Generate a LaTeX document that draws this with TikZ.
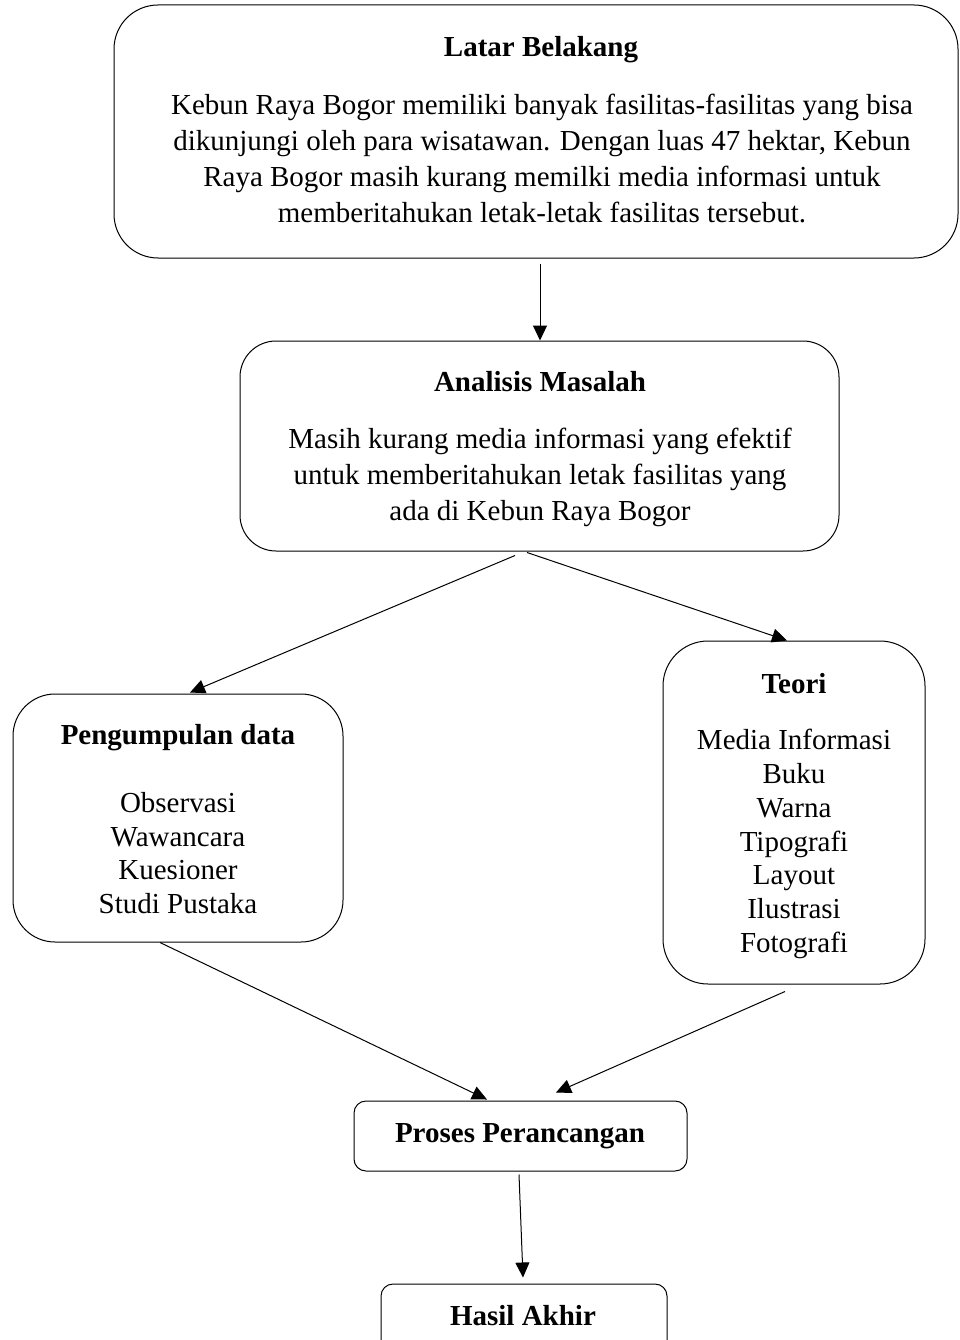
\documentclass[tikz,border=0pt]{standalone}
\usepackage{fontspec}
\setmainfont{Liberation Serif}
\usetikzlibrary{arrows.meta,calc}
\begin{document}
\begin{tikzpicture}[x=1pt,y=-1pt,
  box/.style={draw=black,line width=1pt,rectangle,inner sep=0pt},
  ttl/.style={font=\fontsize{29}{34}\selectfont\bfseries,inner sep=0pt,anchor=center},
  body/.style={font=\fontsize{29}{36}\selectfont,align=center,inner sep=0pt,anchor=center},
  lst/.style={font=\fontsize{29}{33.7}\selectfont,align=center,inner sep=0pt,anchor=center},
  arr/.style={line width=1pt,-{Triangle[length=15pt,width=14pt]}}]
\useasboundingbox (0,0) rectangle (960,1340);
\clip (0,0) rectangle (960,1340);
\fill[white] (0,0) rectangle (960,1340);
% boxes
\node[box,minimum width=844pt,minimum height=253pt,rounded corners=44pt] (b1) at (536,131.5) {};
\node[box,minimum width=599pt,minimum height=210pt,rounded corners=36pt] (b2) at (539.5,446) {};
\node[box,minimum width=330pt,minimum height=248pt,rounded corners=42pt] (b3) at (178,818) {};
\node[box,minimum width=262pt,minimum height=343pt,rounded corners=45pt] (b4) at (794,812.5) {};
\node[box,minimum width=333pt,minimum height=70pt,rounded corners=12pt] (b5) at (520.5,1136) {};
\node[box,minimum width=286pt,minimum height=70pt,rounded corners=12pt] (b6) at (524,1319) {};
% texts
\node[ttl] (t1) at (541,50) {Latar Belakang};
\node[body] (d1) at (542,158.5) {Kebun Raya Bogor memiliki banyak fasilitas-fasilitas yang bisa\\dikunjungi oleh para wisatawan. Dengan luas 47 hektar, Kebun\\Raya Bogor masih kurang memilki media informasi untuk\\memberitahukan letak-letak fasilitas tersebut.};
\node[ttl] (t2) at (540,382) {Analisis Masalah};
\node[body] (d2) at (540,477) {Masih kurang media informasi yang efektif\\untuk memberitahukan letak fasilitas yang\\ada di Kebun Raya Bogor};
\node[ttl] (t3) at (178,738) {Pengumpulan data};
\node[lst] (d3) at (178,853) {Observasi\\Wawancara\\Kuesioner\\Studi Pustaka};
\node[ttl] (t4) at (794,684) {Teori};
\node[lst] (d4) at (794,844) {Media Informasi\\Buku\\Warna\\Tipografi\\Layout\\Ilustrasi\\Fotografi};
\node[ttl] (t5) at (520,1136) {Proses Perancangan};
\node[ttl] (t6) at (523,1316) {Hasil Akhir};
% connectors
\draw[arr] ($(b1.south)+(4,5)$) -- ($(b2.north)+(0.5,0)$);
\draw[arr] ($(b2.south)+(-24.5,4)$) -- ($(b3.north)+(12,-1)$);
\draw[arr] ($(b2.south)+(-12.5,1)$) -- ($(b4.north)+(-7,0)$);
\draw[arr] ($(b3.south)+(-18,0)$) -- ($(b5.north)+(-33.5,-1)$);
\draw[arr] ($(b4.south)+(-9,7)$) -- ($(b5.north)+(35.5,-8)$);
\draw[arr] ($(b5.south)+(-1.5,3)$) -- ($(b6.north)+(-1,-6)$);
\end{tikzpicture}
\end{document}
